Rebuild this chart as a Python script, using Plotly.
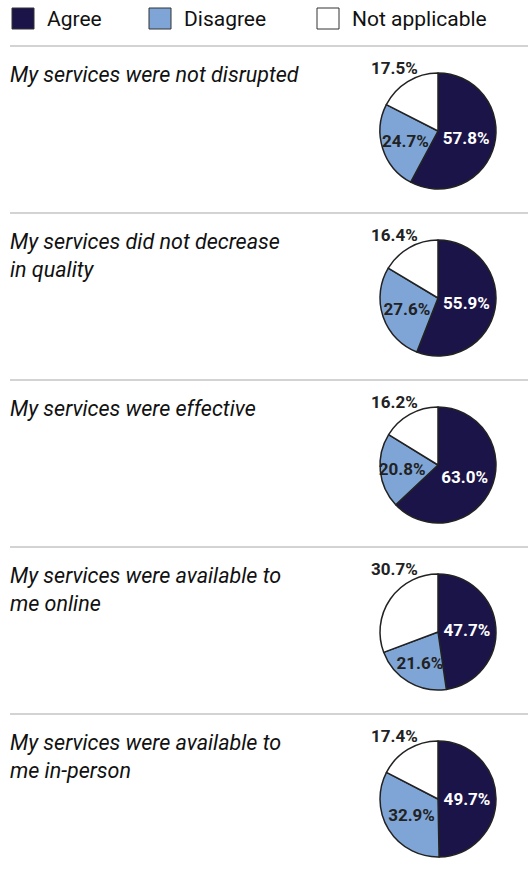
import plotly.graph_objects as go

# ---- data ----
categories = ["Agree", "Disagree", "Not applicable"]
questions = [
    "My services were not disrupted",
    "My services did not decrease<br>in quality",
    "My services were effective",
    "My services were available to<br>me online",
    "My services were available to<br>me in-person",
]
agree = [57.8, 55.9, 63.0, 47.7, 49.7]
disagree = [24.7, 27.6, 20.8, 21.6, 32.9]
not_applicable = [17.5, 16.4, 16.2, 30.7, 17.4]

# ---- style ----
colors = ["#1b1449", "#7fa5d7", "#ffffff"]
W, H = 528, 875
row_top0 = 46
row_h = 167
pie_cx, pie_r = 438, 58
pie_offset = 85  # from separator to pie centre
font_family = "Roboto"
label_size = 17

fig = go.Figure()

for i, q in enumerate(questions):
    sep_y = row_top0 + i * row_h
    cy = sep_y + pie_offset
    vals = [agree[i], disagree[i], not_applicable[i]]
    fig.add_trace(go.Pie(
        labels=categories,
        values=vals,
        sort=False,
        direction="clockwise",
        rotation=0,
        marker=dict(colors=colors, line=dict(color="#222222", width=1.5)),
        texttemplate="%{value:.1f}%",
        textposition=["inside", "inside", "none"],
        insidetextorientation="horizontal",
        textfont=dict(family=font_family, size=label_size, weight="bold",
                      color=["#ffffff", "#222222", "#222222"]),
        hoverinfo="label+value",
        showlegend=False,
        domain=dict(x=[(pie_cx - pie_r) / W, (pie_cx + pie_r) / W],
                    y=[1 - (cy + pie_r) / H, 1 - (cy - pie_r) / H]),
    ))
    # "Not applicable" label above the pie, top-left
    fig.add_annotation(xref="paper", yref="paper",
                       x=(pie_cx - 44) / W, y=1 - (cy - pie_r - 5) / H,
                       xanchor="center", yanchor="middle", showarrow=False,
                       text=f"<b>{not_applicable[i]:.1f}%</b>",
                       font=dict(family=font_family, size=label_size, color="#222222"))
    # separator line
    fig.add_shape(type="line", xref="paper", yref="paper",
                  x0=10 / W, x1=1, y0=1 - sep_y / H, y1=1 - sep_y / H,
                  line=dict(color="#d3d3d3", width=2))
    # question text
    fig.add_annotation(xref="paper", yref="paper", x=8 / W, y=1 - (sep_y + 14) / H,
                       xanchor="left", yanchor="top", align="left", showarrow=False,
                       text=f"<i>{q}</i>",
                       font=dict(family=font_family, size=21.5, color="#111111"))

# ---- legend (custom, larger squares) ----
legend_x = [12, 149, 317]
for lx, cat, col in zip(legend_x, categories, colors):
    fig.add_shape(type="rect", xref="paper", yref="paper",
                  x0=lx / W, x1=(lx + 22) / W, y0=1 - 29 / H, y1=1 - 8 / H,
                  fillcolor=col, line=dict(color="#333333", width=1))
    fig.add_annotation(xref="paper", yref="paper", x=(lx + 33) / W, y=1 - 19 / H,
                       xanchor="left", yanchor="middle", showarrow=False,
                       text=cat, font=dict(family=font_family, size=21, color="#111111"))

fig.update_layout(
    width=W, height=H,
    margin=dict(l=0, r=0, t=0, b=0),
    paper_bgcolor="white",
    plot_bgcolor="white",
    font=dict(family=font_family),
    uniformtext=dict(minsize=label_size, mode="show"),
)

fig.write_html("out.html", config={"displayModeBar": False},
               post_script="document.body.style.margin='0';document.body.style.padding='0';")
